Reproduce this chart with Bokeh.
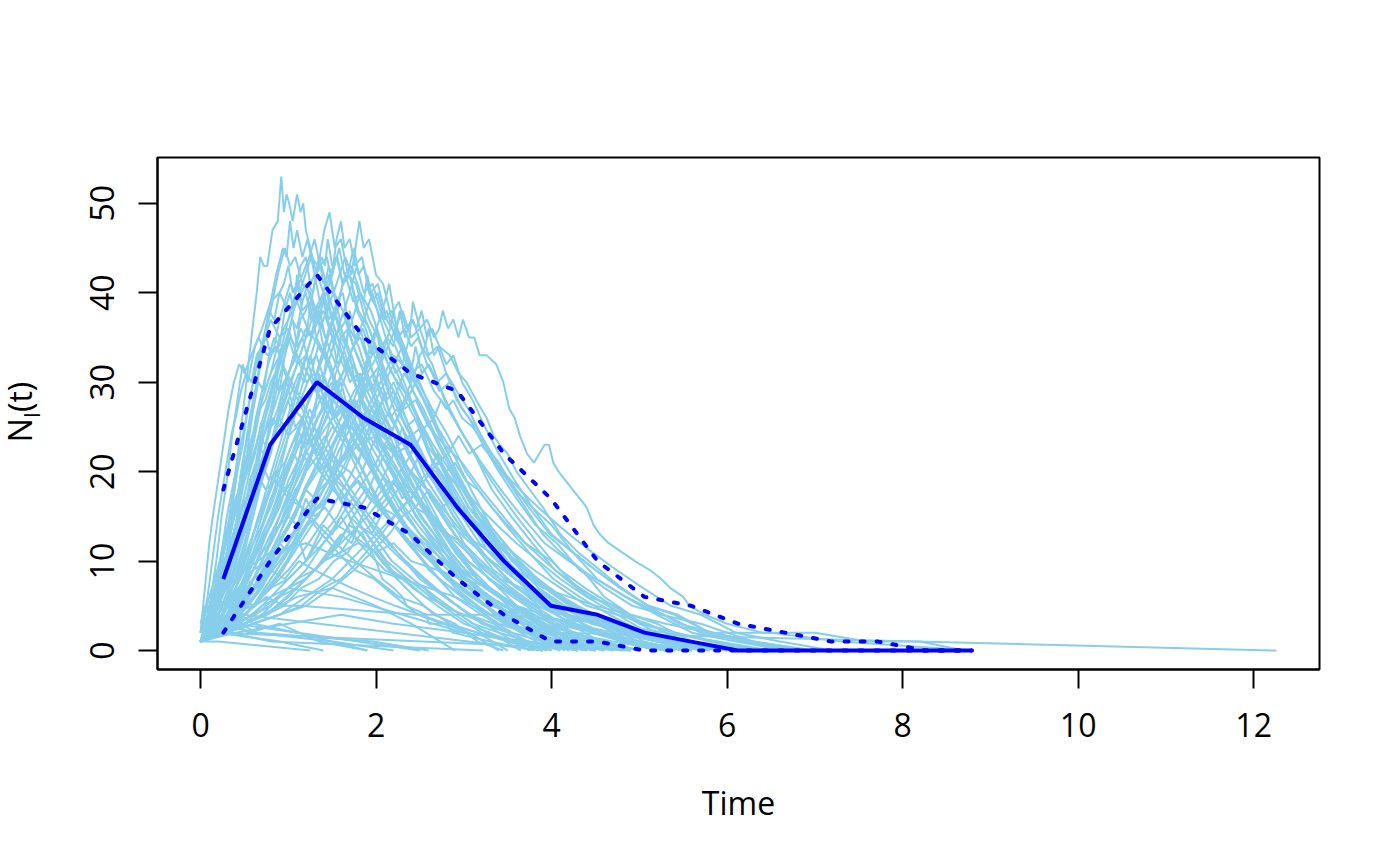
import math
from bokeh.plotting import figure
from bokeh.layouts import row
from bokeh.models import Range1d, FixedTicker, ColumnDataSource, Div
from bokeh.embed import file_html
from bokeh.resources import INLINE

# ---- simulated trajectories: (time, number infected) ----
run01 = [(0,1),(0.1,3),(0.2,7),(0.3,13),(0.4,20),(0.5,28),(0.58,35),(0.64,40),(0.68,44),(0.72,43),(0.76,43),(0.82,47),(0.88,48),(0.92,53),(0.95,49),(0.98,51),(1.01,50),(1.05,48),(1.1,51),(1.14,49),(1.17,50),(1.2,47),(1.25,45),(1.3,43),(1.4,40),(1.5,37),(1.62,33),(1.75,30),(1.9,26),(2.05,22),(2.25,19),(2.45,15),(2.7,12),(2.95,9),(3.25,7),(3.6,5),(4.0,3),(4.5,2),(5.0,1),(5.6,0)]
run02 = [(0,1),(0.1,3),(0.2,5),(0.3,9),(0.4,14),(0.5,20),(0.6,27),(0.7,33),(0.78,38),(0.86,42),(0.94,45),(0.98,44),(1.02,48),(1.06,45),(1.1,47),(1.16,44),(1.22,46),(1.3,42),(1.38,43),(1.48,39),(1.6,36),(1.72,33),(1.85,29),(2.0,26),(2.2,22),(2.4,18),(2.6,15),(2.85,11),(3.1,8),(3.4,6),(3.8,4),(4.2,2),(4.7,1),(5.3,0)]
run03 = [(0,1),(0.12,2),(0.24,4),(0.36,7),(0.48,11),(0.6,16),(0.72,22),(0.84,28),(0.96,33),(1.06,38),(1.16,41),(1.26,44),(1.34,43),(1.41,47),(1.47,49),(1.53,45),(1.6,46),(1.68,42),(1.77,41),(1.88,37),(2.0,34),(2.15,30),(2.3,27),(2.5,22),(2.7,18),(2.95,14),(3.2,11),(3.5,8),(3.85,5),(4.25,3),(4.7,2),(5.2,1),(5.8,0)]
run04 = [(0,1),(0.15,2),(0.3,4),(0.45,7),(0.6,11),(0.75,15),(0.9,20),(1.05,26),(1.2,31),(1.32,35),(1.44,38),(1.55,41),(1.65,44),(1.72,42),(1.78,46),(1.81,48),(1.86,45),(1.92,46),(2.0,42),(2.08,41),(2.18,37),(2.3,34),(2.45,30),(2.6,27),(2.78,23),(2.96,19),(3.16,15),(3.4,12),(3.65,9),(3.95,7),(4.3,5),(4.7,3),(5.15,2),(5.6,1),(6.2,0)]
run05 = [(0,1),(0.15,2),(0.3,3),(0.45,4),(0.6,6),(0.75,8),(0.9,10),(1.05,12),(1.2,15),(1.35,17),(1.5,20),(1.65,22),(1.8,25),(1.95,28),(2.1,31),(2.2,33),(2.3,32),(2.38,35),(2.42,39),(2.5,36),(2.58,37),(2.66,35),(2.72,36),(2.76,38),(2.82,36),(2.88,37),(2.94,35),(2.99,37),(3.06,35),(3.12,35),(3.18,33),(3.26,33),(3.37,32),(3.45,30),(3.52,27),(3.58,26),(3.64,24),(3.72,22),(3.8,21),(3.86,22),(3.92,23),(3.97,23),(4.02,21),(4.08,20),(4.16,19),(4.24,18),(4.32,17),(4.4,16),(4.48,14),(4.55,13),(4.65,12),(4.8,11),(4.95,10),(5.12,9),(5.25,8),(5.35,7),(5.5,6),(5.57,5),(5.75,4),(6.0,3),(6.4,2),(7.0,2),(7.6,1),(8.2,1),(8.7,0)]
run06 = [(0,1),(0.2,2),(0.4,4),(0.6,7),(0.8,10),(1.0,14),(1.15,17),(1.3,20),(1.45,23),(1.6,26),(1.75,29),(1.9,31),(2.02,33),(2.12,35),(2.2,34),(2.27,38),(2.33,35),(2.4,37),(2.46,36),(2.52,38),(2.58,35),(2.64,36),(2.72,34),(2.84,33),(2.94,31),(3.03,30),(3.14,28),(3.26,26),(3.34,24),(3.41,23),(3.5,22),(3.6,20),(3.75,18),(3.9,16),(4.1,13),(4.3,11),(4.55,9),(4.8,7),(5.1,5),(5.4,4),(5.8,2),(6.3,1),(6.9,0)]
run07 = [(0,1),(0.2,3),(0.4,5),(0.6,8),(0.8,11),(1.0,14),(1.2,18),(1.4,21),(1.6,25),(1.75,27),(1.9,30),(2.05,32),(2.18,35),(2.3,38),(2.4,35),(2.5,36),(2.6,33),(2.7,34),(2.8,31),(2.92,29),(3.05,27),(3.2,24),(3.35,21),(3.5,19),(3.7,16),(3.9,13),(4.1,11),(4.35,9),(4.6,6),(4.9,4),(5.2,3),(5.6,1),(6.1,0)]
run08 = [(0,1),(0.1,2),(0.2,4),(0.3,6),(0.4,10),(0.5,14),(0.6,19),(0.7,24),(0.8,29),(0.9,33),(1.0,37),(1.08,40),(1.16,42),(1.24,44),(1.3,46),(1.36,43),(1.44,44),(1.52,40),(1.62,38),(1.74,34),(1.88,31),(2.02,27),(2.2,23),(2.4,19),(2.6,15),(2.85,12),(3.1,9),(3.4,6),(3.75,4),(4.1,2),(4.5,1),(5.0,0)]
run09 = [(0,2),(0.12,3),(0.25,6),(0.38,9),(0.5,13),(0.62,17),(0.74,21),(0.86,25),(0.98,29),(1.1,32),(1.2,35),(1.3,38),(1.4,40),(1.48,42),(1.55,44),(1.62,41),(1.7,42),(1.8,38),(1.92,36),(2.05,32),(2.2,29),(2.38,25),(2.58,21),(2.8,17),(3.05,13),(3.3,10),(3.6,7),(3.95,5),(4.35,3),(4.8,1),(5.3,0)]
run10 = [(0,1),(0.1,3),(0.2,6),(0.3,10),(0.4,14),(0.5,19),(0.6,23),(0.7,28),(0.8,31),(0.9,35),(1.0,37),(1.1,39),(1.2,41),(1.3,38),(1.4,39),(1.5,35),(1.62,33),(1.75,30),(1.9,26),(2.05,22),(2.22,19),(2.4,16),(2.6,13),(2.8,10),(3.05,8),(3.3,6),(3.6,4),(3.9,2),(4.3,1),(4.7,0)]
run11 = [(0,1),(0.15,2),(0.3,4),(0.45,6),(0.6,9),(0.75,13),(0.9,17),(1.05,22),(1.2,27),(1.32,31),(1.44,35),(1.54,38),(1.65,42),(1.74,39),(1.82,40),(1.92,37),(2.02,35),(2.14,32),(2.28,29),(2.44,26),(2.6,22),(2.8,19),(3.0,15),(3.25,12),(3.5,9),(3.8,7),(4.1,5),(4.45,3),(4.85,2),(5.3,1),(5.8,0)]
run12 = [(0,1),(0.1,2),(0.2,3),(0.3,5),(0.4,8),(0.5,11),(0.6,15),(0.7,19),(0.8,22),(0.9,26),(1.0,29),(1.1,32),(1.2,35),(1.3,36),(1.4,38),(1.5,35),(1.6,36),(1.72,32),(1.85,30),(2.0,27),(2.15,23),(2.32,20),(2.5,17),(2.7,14),(2.9,11),(3.15,8),(3.4,6),(3.7,4),(4.0,2),(4.4,1),(4.8,0)]
run13 = [(0,1),(0.15,2),(0.3,3),(0.45,5),(0.6,8),(0.75,11),(0.9,14),(1.05,18),(1.2,22),(1.35,25),(1.5,29),(1.62,31),(1.74,34),(1.85,36),(1.95,33),(2.05,34),(2.18,31),(2.32,29),(2.48,26),(2.65,23),(2.85,20),(3.05,16),(3.3,13),(3.55,10),(3.85,7),(4.15,5),(4.5,3),(4.9,2),(5.35,1),(5.9,0)]
run14 = [(0,1),(0.08,2),(0.16,4),(0.24,6),(0.32,9),(0.4,12),(0.48,15),(0.56,18),(0.64,21),(0.72,24),(0.8,26),(0.9,29),(1.0,31),(1.1,33),(1.2,30),(1.3,31),(1.42,28),(1.55,26),(1.7,23),(1.86,20),(2.02,17),(2.2,14),(2.4,12),(2.6,9),(2.85,7),(3.1,5),(3.4,3),(3.7,2),(4.05,1),(4.4,0)]
run15 = [(0,1),(0.06,3),(0.12,6),(0.18,10),(0.24,15),(0.3,19),(0.36,24),(0.42,28),(0.48,32),(0.54,30),(0.62,34),(0.7,36),(0.8,39),(0.9,40),(1.0,38),(1.1,39),(1.22,36),(1.35,34),(1.5,31),(1.66,27),(1.84,24),(2.04,20),(2.26,16),(2.5,13),(2.76,10),(3.05,7),(3.35,4),(3.7,2),(4.1,0)]
run16 = [(0,1),(0.08,3),(0.16,5),(0.24,8),(0.32,12),(0.4,16),(0.48,21),(0.56,26),(0.64,30),(0.72,35),(0.8,38),(0.88,42),(0.96,45),(1.02,43),(1.08,44),(1.16,41),(1.25,40),(1.35,37),(1.46,34),(1.58,31),(1.72,28),(1.88,24),(2.05,21),(2.25,17),(2.48,14),(2.72,11),(3.0,8),(3.3,6),(3.65,4),(4.05,2),(4.5,0)]
run17 = [(0,1),(0.2,2),(0.4,4),(0.6,7),(0.8,11),(1.0,15),(1.2,20),(1.35,24),(1.5,28),(1.62,31),(1.74,34),(1.86,37),(1.96,40),(2.04,37),(2.12,38),(2.22,35),(2.34,33),(2.48,30),(2.64,27),(2.82,24),(3.02,20),(3.24,17),(3.48,14),(3.74,11),(4.02,8),(4.32,6),(4.66,4),(5.05,2),(5.5,1),(6.0,0)]
run18 = [(0,1),(0.15,2),(0.3,3),(0.45,5),(0.6,8),(0.75,11),(0.9,15),(1.05,19),(1.2,24),(1.35,29),(1.48,33),(1.6,37),(1.7,40),(1.78,43),(1.86,40),(1.96,41),(2.08,37),(2.22,34),(2.38,30),(2.56,26),(2.76,22),(2.98,18),(3.22,14),(3.5,10),(3.8,7),(4.15,5),(4.55,3),(5.0,1),(5.5,0)]
run19 = [(0,2),(0.08,4),(0.16,7),(0.24,10),(0.32,13),(0.4,16),(0.5,20),(0.6,24),(0.7,28),(0.8,31),(0.9,33),(1.0,35),(1.1,32),(1.2,33),(1.32,29),(1.46,27),(1.62,24),(1.8,21),(2.0,17),(2.22,14),(2.46,11),(2.72,8),(3.0,6),(3.3,4),(3.65,2),(4.0,0)]
run20 = [(0,1),(0.2,2),(0.4,3),(0.6,5),(0.8,7),(1.0,10),(1.2,13),(1.4,16),(1.6,20),(1.8,24),(1.95,27),(2.1,30),(2.2,32),(2.3,34),(2.4,31),(2.52,32),(2.66,29),(2.82,27),(3.0,24),(3.2,21),(3.42,18),(3.66,15),(3.92,12),(4.2,10),(4.5,8),(4.85,6),(5.25,4),(5.7,3),(6.3,1),(7.0,0)]
run21 = [(0,1),(0.12,2),(0.25,4),(0.38,6),(0.5,8),(0.62,11),(0.75,14),(0.88,17),(1.0,20),(1.12,23),(1.24,25),(1.36,28),(1.5,30),(1.62,27),(1.76,28),(1.92,25),(2.1,22),(2.3,19),(2.52,16),(2.76,12),(3.02,9),(3.3,7),(3.6,4),(3.95,2),(4.3,0)]
run22 = [(0,1),(0.06,3),(0.12,5),(0.18,8),(0.24,11),(0.3,15),(0.38,19),(0.46,23),(0.54,27),(0.62,31),(0.7,34),(0.8,37),(0.9,35),(1.0,36),(1.1,33),(1.22,31),(1.36,28),(1.52,25),(1.7,22),(1.9,18),(2.12,15),(2.36,12),(2.62,9),(2.9,6),(3.2,4),(3.55,2),(3.9,0)]
run23 = [(0,1),(0.12,2),(0.24,4),(0.36,6),(0.48,9),(0.6,13),(0.72,17),(0.84,21),(0.96,25),(1.08,29),(1.2,33),(1.3,36),(1.4,39),(1.5,42),(1.58,45),(1.64,42),(1.72,43),(1.82,40),(1.94,38),(2.08,34),(2.24,31),(2.42,27),(2.62,23),(2.84,19),(3.08,15),(3.34,11),(3.64,8),(3.98,5),(4.36,3),(4.8,1),(5.3,0)]
run24 = [(0,1),(0.25,2),(0.5,3),(0.75,5),(1.0,7),(1.2,9),(1.4,12),(1.6,15),(1.8,18),(2.0,21),(2.15,24),(2.3,27),(2.45,30),(2.6,32),(2.72,29),(2.84,30),(2.98,27),(3.14,25),(3.32,22),(3.52,19),(3.74,16),(3.98,13),(4.24,11),(4.52,8),(4.84,6),(5.2,4),(5.6,2),(6.1,1),(6.7,0)]
run25 = [(0,1),(0.2,2),(0.4,3),(0.6,5),(0.8,8),(1.0,11),(1.2,14),(1.4,17),(1.6,21),(1.8,24),(1.95,26),(2.08,28),(2.2,30),(2.32,27),(2.45,28),(2.6,25),(2.78,23),(2.98,21),(3.2,18),(3.45,15),(3.7,12),(4.0,10),(4.3,7),(4.65,5),(5.0,3),(5.4,1),(5.9,0)]
run26 = [(0,1),(0.15,2),(0.3,4),(0.45,6),(0.6,8),(0.75,11),(0.9,14),(1.05,17),(1.2,20),(1.35,22),(1.5,25),(1.6,24),(1.7,27),(1.8,25),(1.92,26),(2.05,23),(2.2,21),(2.38,18),(2.58,16),(2.8,13),(3.05,10),(3.3,8),(3.6,6),(3.9,4),(4.25,2),(4.6,1),(5.0,0)]
run27 = [(0,1),(0.1,2),(0.2,3),(0.3,5),(0.4,7),(0.5,9),(0.6,12),(0.7,14),(0.8,17),(0.9,19),(1.0,21),(1.1,23),(1.2,25),(1.3,22),(1.42,24),(1.55,21),(1.7,20),(1.86,18),(2.02,16),(2.2,14),(2.4,12),(2.62,10),(2.86,8),(3.12,6),(3.4,4),(3.7,3),(4.0,1),(4.4,0)]
run28 = [(0,1),(0.25,2),(0.5,3),(0.75,4),(1.0,6),(1.2,8),(1.4,10),(1.6,11),(1.8,14),(1.95,13),(2.1,16),(2.25,18),(2.4,20),(2.5,22),(2.6,20),(2.72,21),(2.86,19),(3.0,18),(3.18,16),(3.38,14),(3.6,12),(3.85,10),(4.1,8),(4.4,6),(4.75,4),(5.1,3),(5.5,1),(6.0,0)]
run29 = [(0,1),(0.15,2),(0.3,4),(0.45,6),(0.6,8),(0.75,9),(0.9,12),(1.0,11),(1.1,13),(1.2,10),(1.3,12),(1.4,14),(1.5,13),(1.6,15),(1.72,13),(1.86,12),(2.0,11),(2.16,9),(2.34,8),(2.54,7),(2.76,5),(3.0,4),(3.25,3),(3.55,2),(3.9,1),(4.3,0)]
run30 = [(0,1),(0.2,2),(0.4,3),(0.6,4),(0.8,5),(1.0,7),(1.2,8),(1.4,10),(1.55,12),(1.7,14),(1.85,13),(2.0,10),(2.07,8),(2.2,7),(2.3,6),(2.35,5),(2.57,4),(2.6,3),(2.8,3),(2.87,2),(3.3,1),(3.8,0)]
run31 = [(0,1),(0.08,3),(0.16,5),(0.24,8),(0.32,11),(0.4,13),(0.48,16),(0.56,18),(0.64,20),(0.74,18),(0.86,19),(1.0,17),(1.16,16),(1.34,14),(1.54,12),(1.76,10),(2.0,8),(2.26,6),(2.54,5),(2.84,3),(3.16,2),(3.5,0)]
run32 = [(0,1),(0.3,2),(0.6,3),(0.9,4),(1.2,6),(1.5,8),(1.8,11),(2.0,13),(2.2,15),(2.4,17),(2.55,19),(2.7,21),(2.82,22),(2.94,24),(3.06,22),(3.2,23),(3.36,21),(3.54,19),(3.74,17),(3.96,15),(4.2,13),(4.46,11),(4.74,9),(5.04,7),(5.36,5),(5.7,4),(6.1,2),(6.6,1),(7.2,0)]
run33 = [(0,1),(0.2,2),(0.4,4),(0.6,6),(0.8,9),(1.0,12),(1.2,15),(1.4,18),(1.6,21),(1.8,23),(2.0,24),(2.2,22),(2.4,23),(2.6,20),(2.8,18),(3.0,16),(3.25,13),(3.5,10),(3.7,7),(3.9,4),(4.1,2),(12.26,0)]
run34 = [(0,1),(0.15,2),(0.3,4),(0.5,7),(0.7,11),(0.9,15),(1.1,19),(1.3,23),(1.5,26),(1.65,28),(1.8,26),(1.95,27),(2.1,24),(2.3,21),(2.5,19),(2.75,16),(3.0,13),(3.3,11),(3.6,9),(3.9,7),(4.2,6),(4.5,5),(4.9,4),(5.3,3),(5.8,2),(6.5,2),(7.3,1),(8.79,0)]
run35 = [(0,1),(0.35,2),(0.8,1),(3.22,0)]
run36 = [(0,1),(0.12,2),(0.3,3),(0.55,2),(0.9,3),(1.35,1),(1.9,0)]
run37 = [(0,1),(0.15,2),(0.3,3),(0.5,4),(0.75,6),(0.95,5),(1.13,5),(2.46,4),(3.4,4),(4.7,3),(5.3,2),(5.9,1),(6.5,0)]
run38 = [(0,2),(0.1,3),(0.25,4),(0.45,3),(0.64,2),(1.96,1),(2.6,0)]
run39 = [(0,1),(0.06,3),(0.2,2),(4.9,0)]
run40 = [(0,1),(0.3,2),(0.7,4),(1.1,6),(1.5,7),(2.0,5),(2.4,3),(2.9,0)]
run41 = [(0,1),(0.2,1),(1.25,0)]
run42 = [(0,1),(0.1,2),(0.3,4),(0.6,5),(1.0,7),(1.6,6),(2.3,4),(3.0,2),(4.5,0)]
run43 = [(0,1),(0.08,3),(0.16,5),(0.3,7),(0.5,9),(0.8,11),(1.2,12),(1.7,10),(2.3,8),(2.9,6),(3.5,3),(4.2,0)]
run44 = [(0,1),(0.1,2),(0.2,4),(0.4,3),(2.5,0)]
run45 = [(0,2),(0.05,4),(0.15,6),(0.3,5),(0.5,4),(3.9,0)]
run46 = [(0,1),(0.4,2),(1.0,3),(1.6,4),(2.2,3),(3.0,2),(4.3,0)]
run47 = [(0,1),(0.07,2),(0.14,4),(0.21,5),(0.28,8),(0.35,10),(0.42,13),(0.49,15),(0.56,19),(0.63,21),(0.7,25),(0.77,27),(0.84,30),(0.9,29),(0.96,33),(1.02,35),(1.08,34),(1.14,37),(1.2,38),(1.25,40),(1.3,37),(1.36,38),(1.42,35),(1.5,36),(1.58,33),(1.66,31),(1.75,32),(1.85,28),(1.96,26),(2.08,23),(2.2,21),(2.34,18),(2.5,15),(2.66,13),(2.84,10),(3.04,8),(3.26,6),(3.5,4),(3.8,2),(4.1,1),(4.5,0)]
run48 = [(0,1),(0.15,2),(0.3,3),(0.45,5),(0.6,7),(0.72,9),(0.84,11),(0.96,13),(1.08,15),(1.2,18),(1.3,17),(1.4,20),(1.5,22),(1.58,21),(1.66,25),(1.74,27),(1.8,26),(1.86,30),(1.92,33),(1.98,30),(2.04,31),(2.12,28),(2.2,29),(2.3,26),(2.4,24),(2.52,25),(2.64,21),(2.78,19),(2.94,16),(3.1,14),(3.28,11),(3.48,9),(3.7,7),(3.94,5),(4.2,3),(4.5,2),(4.85,1),(5.2,0)]
run49 = [(0,1),(0.06,2),(0.12,4),(0.18,6),(0.24,9),(0.3,11),(0.36,14),(0.42,16),(0.5,19),(0.58,21),(0.66,24),(0.74,23),(0.82,26),(0.9,25),(1.0,28),(1.08,25),(1.16,26),(1.26,23),(1.36,21),(1.48,19),(1.6,17),(1.74,14),(1.9,12),(2.06,10),(2.24,8),(2.44,6),(2.66,4),(2.9,3),(3.16,1),(3.45,0)]
run50 = [(0,1),(0.08,2),(0.16,3),(0.24,5),(0.32,7),(0.4,10),(0.48,13),(0.56,17),(0.64,20),(0.72,24),(0.8,27),(0.88,31),(0.96,34),(1.04,37),(1.1,36),(1.16,39),(1.22,41),(1.28,40),(1.35,44),(1.4,41),(1.46,42),(1.54,39),(1.62,40),(1.7,36),(1.8,34),(1.9,31),(2.02,28),(2.16,25),(2.32,21),(2.5,18),(2.7,14),(2.92,11),(3.16,8),(3.44,6),(3.76,4),(4.1,2),(4.5,1),(4.9,0)]
run51 = [(0,1),(0.18,2),(0.36,3),(0.54,5),(0.7,7),(0.86,10),(1.0,12),(1.14,15),(1.28,17),(1.4,20),(1.52,23),(1.62,25),(1.72,28),(1.8,27),(1.88,31),(1.95,33),(2.0,36),(2.06,33),(2.14,34),(2.22,31),(2.32,32),(2.42,29),(2.54,27),(2.68,24),(2.84,21),(3.0,18),(3.2,15),(3.42,12),(3.66,9),(3.92,7),(4.2,5),(4.52,3),(4.9,2),(5.3,1),(5.7,0)]
run52 = [(0,1),(0.1,2),(0.2,3),(0.32,5),(0.44,7),(0.56,9),(0.68,12),(0.8,14),(0.92,17),(1.04,19),(1.14,22),(1.24,21),(1.34,24),(1.44,26),(1.52,28),(1.6,30),(1.68,27),(1.76,28),(1.86,25),(1.98,23),(2.12,21),(2.28,18),(2.46,15),(2.66,12),(2.88,10),(3.12,7),(3.4,5),(3.7,3),(4.0,2),(4.35,0)]
run53 = [(0,1),(0.06,2),(0.12,4),(0.18,6),(0.24,8),(0.3,11),(0.36,14),(0.42,17),(0.48,21),(0.54,24),(0.6,27),(0.66,30),(0.72,29),(0.78,33),(0.84,35),(0.9,34),(0.96,38),(1.02,40),(1.06,38),(1.1,42),(1.15,39),(1.2,40),(1.26,37),(1.32,38),(1.4,34),(1.48,32),(1.58,29),(1.68,27),(1.8,24),(1.94,21),(2.1,18),(2.28,15),(2.48,12),(2.7,9),(2.96,7),(3.24,5),(3.56,3),(3.9,1),(4.3,0)]
run54 = [(0,1),(0.25,2),(0.5,3),(0.7,4),(0.9,6),(1.1,7),(1.3,9),(1.45,11),(1.6,13),(1.72,12),(1.84,15),(1.96,17),(2.06,19),(2.16,21),(2.24,23),(2.3,25),(2.38,22),(2.46,23),(2.56,21),(2.68,20),(2.82,18),(2.98,16),(3.16,14),(3.36,12),(3.58,10),(3.82,8),(4.08,6),(4.38,4),(4.7,3),(5.05,1),(5.5,0)]
run55 = [(0,1),(0.1,2),(0.2,4),(0.3,6),(0.4,9),(0.5,12),(0.6,16),(0.7,19),(0.8,23),(0.9,27),(0.98,30),(1.06,33),(1.14,36),(1.2,35),(1.26,39),(1.32,42),(1.38,44),(1.42,43),(1.45,46),(1.5,43),(1.56,44),(1.62,41),(1.7,42),(1.78,38),(1.88,36),(1.98,33),(2.1,30),(2.24,26),(2.4,23),(2.58,19),(2.78,16),(3.0,12),(3.24,9),(3.5,7),(3.8,5),(4.12,3),(4.5,2),(4.9,1),(5.4,0)]
run56 = [(0,1),(0.12,2),(0.24,3),(0.36,4),(0.5,6),(0.64,7),(0.78,9),(0.92,11),(1.06,12),(1.2,14),(1.32,16),(1.44,17),(1.52,19),(1.6,20),(1.7,18),(1.8,19),(1.92,17),(2.06,16),(2.22,14),(2.4,12),(2.6,11),(2.82,9),(3.06,7),(3.32,5),(3.6,4),(3.9,2),(4.25,1),(4.6,0)]
run57 = [(0,1),(0.14,2),(0.28,3),(0.42,5),(0.56,7),(0.7,10),(0.82,13),(0.94,16),(1.06,19),(1.18,22),(1.28,25),(1.38,27),(1.46,30),(1.54,32),(1.6,35),(1.66,34),(1.7,38),(1.76,35),(1.82,36),(1.9,33),(1.98,34),(2.08,31),(2.2,28),(2.34,25),(2.5,22),(2.68,19),(2.88,15),(3.1,12),(3.34,9),(3.6,7),(3.9,5),(4.22,3),(4.6,2),(5.0,1),(5.4,0)]
run58 = [(0,2),(0.05,4),(0.1,6),(0.16,8),(0.22,10),(0.28,13),(0.34,15),(0.4,17),(0.48,19),(0.56,21),(0.64,23),(0.72,22),(0.8,25),(0.9,26),(1.0,24),(1.1,25),(1.22,22),(1.36,20),(1.52,18),(1.7,15),(1.9,13),(2.12,10),(2.36,8),(2.62,6),(2.9,4),(3.2,2),(3.55,1),(3.9,0)]
run59 = [(0,1),(0.2,2),(0.4,3),(0.6,4),(0.8,6),(1.0,8),(1.2,10),(1.4,13),(1.56,15),(1.7,18),(1.84,20),(1.96,23),(2.06,25),(2.16,27),(2.24,29),(2.32,31),(2.38,30),(2.45,34),(2.52,31),(2.6,32),(2.7,30),(2.8,31),(2.92,28),(3.06,26),(3.22,23),(3.4,20),(3.6,17),(3.82,14),(4.06,12),(4.32,9),(4.6,7),(4.92,5),(5.28,4),(5.7,2),(6.2,1),(6.8,0)]
run60 = [(0,1),(0.06,3),(0.12,5),(0.18,7),(0.24,10),(0.3,13),(0.36,16),(0.42,20),(0.48,23),(0.54,27),(0.6,30),(0.66,33),(0.72,35),(0.78,38),(0.84,37),(0.9,40),(0.95,41),(1.0,43),(1.05,40),(1.1,41),(1.16,38),(1.24,39),(1.32,35),(1.42,33),(1.52,30),(1.64,27),(1.78,24),(1.94,21),(2.12,17),(2.32,14),(2.54,11),(2.8,8),(3.08,6),(3.4,4),(3.75,2),(4.15,1),(4.6,0)]
run61 = [(0,1),(0.3,2),(0.6,3),(0.9,4),(1.15,5),(1.4,7),(1.6,8),(1.8,10),(1.98,12),(2.14,14),(2.28,16),(2.4,17),(2.5,19),(2.6,20),(2.7,22),(2.8,20),(2.9,21),(3.02,19),(3.16,18),(3.32,16),(3.5,14),(3.7,12),(3.92,10),(4.16,8),(4.42,6),(4.72,5),(5.04,3),(5.4,2),(5.8,1),(6.3,0)]
run62 = [(0,1),(0.1,2),(0.2,3),(0.3,5),(0.4,7),(0.5,10),(0.6,12),(0.7,15),(0.8,18),(0.9,21),(1.0,24),(1.1,27),(1.18,29),(1.26,31),(1.34,34),(1.4,33),(1.46,36),(1.5,37),(1.55,39),(1.6,36),(1.66,37),(1.74,34),(1.82,35),(1.92,32),(2.02,30),(2.14,27),(2.28,24),(2.44,21),(2.62,17),(2.82,14),(3.04,11),(3.28,8),(3.56,6),(3.86,4),(4.2,2),(4.6,1),(5.0,0)]
run63 = [(0,1),(0.1,2),(0.2,3),(0.3,5),(0.4,6),(0.5,8),(0.6,9),(0.7,11),(0.8,12),(0.9,14),(1.0,15),(1.1,14),(1.2,17),(1.3,15),(1.42,16),(1.56,14),(1.72,13),(1.9,11),(2.1,9),(2.32,8),(2.56,6),(2.82,5),(3.1,3),(3.4,2),(3.75,1),(4.1,0)]
run64 = [(0,1),(0.08,2),(0.16,4),(0.24,6),(0.32,8),(0.4,11),(0.48,13),(0.56,16),(0.64,18),(0.72,21),(0.8,23),(0.88,26),(0.96,27),(1.04,29),(1.12,31),(1.18,30),(1.25,33),(1.32,30),(1.4,31),(1.5,28),(1.6,27),(1.72,24),(1.86,22),(2.02,19),(2.2,16),(2.4,13),(2.62,10),(2.86,8),(3.12,6),(3.4,4),(3.7,3),(4.05,1),(4.4,0)]
run65 = [(0,1),(0.12,2),(0.24,3),(0.36,5),(0.48,7),(0.6,10),(0.72,13),(0.84,16),(0.96,20),(1.08,23),(1.2,27),(1.3,30),(1.4,33),(1.48,36),(1.56,38),(1.62,41),(1.68,42),(1.72,44),(1.75,45),(1.8,42),(1.86,43),(1.94,40),(2.02,41),(2.12,37),(2.24,35),(2.38,31),(2.54,28),(2.72,24),(2.92,20),(3.14,16),(3.38,13),(3.64,10),(3.94,7),(4.26,5),(4.62,3),(5.0,2),(5.4,1),(5.9,0)]
run66 = [(0,1),(0.2,2),(0.4,3),(0.6,5),(0.8,7),(1.0,9),(1.16,11),(1.3,13),(1.44,15),(1.56,17),(1.68,19),(1.78,21),(1.88,23),(1.96,25),(2.04,27),(2.1,29),(2.16,26),(2.24,27),(2.34,25),(2.46,26),(2.58,23),(2.72,21),(2.88,19),(3.06,16),(3.26,14),(3.48,11),(3.72,9),(3.98,7),(4.26,5),(4.58,3),(4.94,2),(5.3,1),(5.7,0)]
run67 = [(0,1),(0.2,2),(0.4,3),(0.6,4),(0.8,5),(1.0,7),(1.2,8),(1.4,10),(1.6,11),(1.8,12),(2.0,11),(2.2,12),(2.4,10),(2.7,9),(3.0,8),(3.3,7),(3.6,5),(3.9,4),(4.2,3),(4.6,2),(5.0,1),(5.5,0)]
run68 = [(0,2),(0.04,4),(0.08,6),(0.12,9),(0.16,12),(0.2,15),(0.25,18),(0.3,21),(0.35,24),(0.4,26),(0.46,29),(0.52,31),(0.58,30),(0.64,33),(0.7,34),(0.75,35),(0.8,33),(0.88,34),(0.96,31),(1.06,29),(1.16,27),(1.28,24),(1.42,21),(1.58,18),(1.76,15),(1.96,12),(2.18,9),(2.42,7),(2.7,5),(3.0,3),(3.3,2),(3.65,0)]
run69 = [(0,1),(0.1,2),(0.2,3),(0.3,4),(0.4,6),(0.5,8),(0.6,10),(0.7,13),(0.8,15),(0.9,18),(0.98,20),(1.06,22),(1.12,21),(1.18,25),(1.24,27),(1.3,26),(1.35,31),(1.4,28),(1.46,29),(1.54,26),(1.62,27),(1.72,24),(1.84,22),(1.98,20),(2.14,17),(2.32,14),(2.52,12),(2.74,9),(2.98,7),(3.24,5),(3.52,3),(3.84,2),(4.2,0)]
run70 = [(0,1),(0.2,2),(0.4,3),(0.6,5),(0.8,8),(1.0,11),(1.15,14),(1.3,17),(1.44,20),(1.56,23),(1.68,26),(1.78,29),(1.88,32),(1.96,35),(2.04,37),(2.1,39),(2.15,41),(2.2,38),(2.26,39),(2.34,36),(2.42,37),(2.52,34),(2.64,32),(2.78,28),(2.94,25),(3.12,22),(3.32,18),(3.54,15),(3.78,12),(4.04,9),(4.32,7),(4.64,5),(5.0,3),(5.4,2),(5.85,1),(6.4,0)]
run71 = [(0,3),(0.05,5),(0.12,4),(0.3,3),(0.6,2),(1.5,1),(2.2,0)]
run72 = [(0,1),(0.05,2),(0.1,4),(0.16,6),(0.3,5),(0.6,3),(1.1,2),(1.9,0)]
run73 = [(0,2),(0.08,3),(0.2,2),(0.9,1),(1.4,0)]
run74 = [(0,2),(0.03,5),(0.06,8),(0.1,12),(0.14,15),(0.2,19),(0.26,23),(0.32,27),(0.38,30),(0.44,32),(0.5,31),(0.58,33),(0.66,35),(0.76,33),(0.86,34),(0.98,31),(1.1,29),(1.24,26),(1.4,23),(1.58,20),(1.78,17),(2.0,14),(2.24,11),(2.5,8),(2.78,6),(3.08,4),(3.4,2),(3.75,0)]
run75 = [(0,1),(0.07,2),(0.14,4),(0.21,6),(0.28,9),(0.35,11),(0.42,14),(0.49,17),(0.56,20),(0.62,22),(0.68,25),(0.74,27),(0.8,29),(0.86,31),(0.92,33),(0.98,35),(1.05,37),(1.1,34),(1.16,35),(1.24,32),(1.32,33),(1.42,30),(1.52,28),(1.64,26),(1.76,23),(1.9,21),(2.06,18),(2.24,15),(2.44,12),(2.66,10),(2.9,7),(3.16,5),(3.46,3),(3.8,2),(4.15,0)]
run76 = [(0,1),(0.18,2),(0.36,3),(0.52,4),(0.68,6),(0.84,8),(0.98,10),(1.1,12),(1.22,14),(1.34,15),(1.44,17),(1.54,19),(1.64,20),(1.72,22),(1.8,21),(1.88,24),(1.94,25),(2.0,27),(2.08,24),(2.16,25),(2.26,23),(2.38,24),(2.5,21),(2.64,19),(2.8,17),(2.98,15),(3.18,12),(3.4,10),(3.64,8),(3.9,6),(4.2,4),(4.52,3),(4.88,1),(5.3,0)]
run77 = [(0,1),(0.16,2),(0.32,3),(0.48,5),(0.62,7),(0.76,10),(0.9,13),(1.02,16),(1.14,19),(1.26,22),(1.36,25),(1.46,28),(1.54,31),(1.62,33),(1.7,36),(1.76,38),(1.82,40),(1.86,39),(1.9,42),(1.96,39),(2.02,40),(2.1,37),(2.18,38),(2.28,35),(2.4,32),(2.54,29),(2.7,25),(2.88,22),(3.08,18),(3.3,14),(3.54,11),(3.8,8),(4.1,6),(4.42,4),(4.78,2),(5.2,1),(5.6,0)]
run78 = [(0,1),(0.1,2),(0.2,3),(0.3,4),(0.4,6),(0.5,7),(0.6,9),(0.7,11),(0.8,13),(0.9,14),(1.0,16),(1.08,18),(1.16,19),(1.24,21),(1.3,23),(1.36,20),(1.44,21),(1.54,19),(1.66,18),(1.8,16),(1.96,14),(2.14,12),(2.34,10),(2.56,8),(2.8,6),(3.06,4),(3.34,3),(3.66,1),(4.0,0)]
run79 = [(0,1),(0.1,2),(0.2,3),(0.3,5),(0.4,7),(0.5,9),(0.6,11),(0.7,14),(0.8,16),(0.9,19),(1.0,22),(1.08,24),(1.16,26),(1.24,28),(1.32,30),(1.38,29),(1.44,33),(1.5,35),(1.56,32),(1.62,33),(1.7,30),(1.8,31),(1.9,28),(2.02,26),(2.16,23),(2.32,20),(2.5,17),(2.7,14),(2.92,11),(3.16,8),(3.42,6),(3.72,4),(4.04,2),(4.4,1),(4.8,0)]
run80 = [(0,1),(0.05,2),(0.1,4),(0.15,6),(0.2,8),(0.26,11),(0.32,13),(0.38,16),(0.44,18),(0.5,21),(0.56,23),(0.62,25),(0.68,27),(0.74,28),(0.8,30),(0.85,31),(0.9,29),(0.98,30),(1.06,27),(1.16,26),(1.28,23),(1.42,21),(1.58,18),(1.76,16),(1.96,13),(2.18,10),(2.42,8),(2.68,6),(2.96,4),(3.26,2),(3.6,1),(3.95,0)]
run81 = [(0,1),(0.2,2),(0.4,3),(0.6,5),(0.78,7),(0.94,9),(1.08,12),(1.22,14),(1.34,17),(1.46,19),(1.56,22),(1.66,24),(1.76,26),(1.84,28),(1.92,30),(1.98,29),(2.04,32),(2.1,34),(2.16,36),(2.2,38),(2.26,35),(2.32,36),(2.4,34),(2.48,35),(2.58,32),(2.7,30),(2.84,27),(3.0,24),(3.18,21),(3.38,18),(3.6,15),(3.84,12),(4.1,9),(4.38,7),(4.7,5),(5.04,3),(5.42,2),(5.84,1),(6.3,0)]
run82 = [(0,1),(0.08,2),(0.16,3),(0.24,5),(0.32,6),(0.4,8),(0.48,10),(0.56,12),(0.64,14),(0.72,16),(0.8,18),(0.88,20),(0.96,21),(1.04,23),(1.1,24),(1.15,26),(1.22,23),(1.3,24),(1.4,22),(1.52,20),(1.66,18),(1.82,16),(2.0,13),(2.2,11),(2.42,9),(2.66,7),(2.92,5),(3.2,3),(3.5,2),(3.85,0)]
run83 = [(0,1),(0.08,2),(0.16,4),(0.24,6),(0.32,8),(0.4,11),(0.48,14),(0.56,17),(0.64,20),(0.72,22),(0.8,25),(0.88,27),(0.96,30),(1.04,32),(1.12,34),(1.2,36),(1.26,35),(1.32,38),(1.36,37),(1.4,40),(1.46,37),(1.52,38),(1.6,35),(1.68,36),(1.78,33),(1.9,30),(2.04,27),(2.2,24),(2.38,20),(2.58,17),(2.8,13),(3.04,10),(3.3,8),(3.6,5),(3.92,3),(4.28,2),(4.7,0)]
run84 = [(0,1),(0.25,2),(0.5,3),(0.75,4),(0.95,5),(1.15,7),(1.35,8),(1.52,10),(1.68,11),(1.82,13),(1.94,14),(2.04,16),(2.12,17),(2.2,19),(2.3,17),(2.4,18),(2.52,16),(2.66,15),(2.82,13),(3.0,12),(3.2,10),(3.42,8),(3.66,7),(3.92,5),(4.2,4),(4.5,2),(4.85,1),(5.2,0)]
run85 = [(0,1),(0.14,2),(0.28,3),(0.42,4),(0.56,6),(0.7,8),(0.82,10),(0.94,13),(1.06,15),(1.18,18),(1.28,20),(1.38,22),(1.46,25),(1.54,27),(1.6,29),(1.66,31),(1.7,33),(1.76,30),(1.82,31),(1.9,29),(2.0,30),(2.1,27),(2.22,25),(2.36,22),(2.52,19),(2.7,16),(2.9,13),(3.12,10),(3.36,8),(3.62,6),(3.9,4),(4.2,3),(4.55,1),(4.9,0)]
run86 = [(0,1),(0.07,2),(0.14,4),(0.21,6),(0.28,9),(0.35,12),(0.42,15),(0.49,19),(0.56,22),(0.63,26),(0.7,29),(0.77,32),(0.84,34),(0.9,37),(0.96,39),(1.02,41),(1.08,40),(1.14,43),(1.2,44),(1.25,41),(1.3,42),(1.36,39),(1.44,40),(1.52,36),(1.62,34),(1.72,31),(1.84,28),(1.98,25),(2.14,21),(2.32,18),(2.52,15),(2.74,12),(2.98,9),(3.24,7),(3.54,5),(3.86,3),(4.22,2),(4.6,0)]
run87 = [(0,1),(0.05,2),(0.1,4),(0.16,6),(0.22,8),(0.28,10),(0.34,12),(0.4,14),(0.46,16),(0.52,17),(0.58,19),(0.64,20),(0.7,21),(0.78,19),(0.86,20),(0.96,18),(1.08,17),(1.22,15),(1.38,13),(1.56,11),(1.76,9),(1.98,8),(2.22,6),(2.48,4),(2.76,3),(3.06,2),(3.4,0)]
run88 = [(0,1),(0.25,2),(0.5,3),(0.75,4),(0.98,6),(1.2,8),(1.4,10),(1.58,12),(1.74,15),(1.88,17),(2.0,20),(2.1,22),(2.2,25),(2.28,27),(2.36,29),(2.44,31),(2.5,33),(2.56,34),(2.6,36),(2.66,33),(2.72,34),(2.8,32),(2.88,33),(2.98,30),(3.1,28),(3.24,25),(3.4,22),(3.58,19),(3.78,16),(4.0,13),(4.24,11),(4.5,9),(4.78,7),(5.1,5),(5.45,3),(5.85,2),(6.3,1),(6.8,0)]
run89 = [(0,1),(0.1,2),(0.2,3),(0.3,4),(0.4,6),(0.5,8),(0.6,10),(0.7,12),(0.8,14),(0.9,16),(1.0,19),(1.1,21),(1.18,23),(1.26,24),(1.34,26),(1.4,27),(1.45,29),(1.52,26),(1.6,27),(1.7,25),(1.82,24),(1.96,21),(2.12,19),(2.3,16),(2.5,13),(2.72,11),(2.96,8),(3.22,6),(3.5,4),(3.82,3),(4.16,1),(4.5,0)]
run90 = [(0,1),(0.1,2),(0.2,4),(0.3,6),(0.42,8),(0.54,11),(0.66,15),(0.78,18),(0.9,22),(1.0,25),(1.1,29),(1.18,32),(1.26,35),(1.34,38),(1.4,40),(1.46,43),(1.5,42),(1.55,46),(1.6,48),(1.64,45),(1.7,46),(1.76,43),(1.84,44),(1.92,40),(2.02,38),(2.14,34),(2.28,31),(2.44,27),(2.62,23),(2.82,19),(3.04,15),(3.28,12),(3.54,9),(3.84,6),(4.16,4),(4.52,3),(4.92,1),(5.4,0)]
run91 = [(0,1),(0.3,2),(0.6,3),(0.9,4),(1.2,5),(1.5,7),(1.75,9),(1.95,11),(2.15,13),(2.3,15),(2.45,16),(2.6,18),(2.74,16),(2.9,17),(3.08,15),(3.3,13),(3.55,11),(3.8,9),(4.1,7),(4.4,5),(4.75,4),(5.1,2),(5.5,1),(5.9,0)]
run92 = [(0,2),(0.1,3),(0.22,5),(0.36,6),(0.5,8),(0.66,7),(0.8,9),(0.96,8),(1.12,10),(1.3,9),(1.5,8),(1.72,7),(1.96,6),(2.22,5),(2.5,4),(2.8,3),(3.15,2),(3.5,1),(3.9,0)]
run93 = [(0,1),(0.15,3),(0.3,4),(0.45,6),(0.6,5),(0.8,7),(1.0,8),(1.2,10),(1.4,12),(1.58,14),(1.74,16),(1.88,18),(2.0,17),(2.14,19),(2.28,18),(2.44,16),(2.62,15),(2.82,13),(3.04,11),(3.28,9),(3.54,7),(3.82,5),(4.12,4),(4.45,2),(4.8,1),(5.2,0)]
run94 = [(0,1),(0.08,2),(0.18,4),(0.3,5),(0.45,7),(0.6,9),(0.75,10),(0.9,12),(1.04,13),(1.2,15),(1.36,16),(1.5,18),(1.62,17),(1.76,19),(1.9,18),(2.06,16),(2.24,15),(2.44,13),(2.66,11),(2.9,9),(3.16,7),(3.44,5),(3.74,4),(4.06,2),(4.4,1),(4.8,0)]
run95 = [(0,1),(0.2,2),(0.45,3),(0.7,5),(0.9,6),(1.1,8),(1.3,9),(1.5,11),(1.7,13),(1.9,15),(2.06,17),(2.2,19),(2.34,21),(2.46,23),(2.56,25),(2.66,26),(2.74,28),(2.8,27),(2.88,28),(2.98,26),(3.1,25),(3.24,23),(3.4,21),(3.58,18),(3.78,16),(4.0,14),(4.24,11),(4.5,9),(4.78,7),(5.1,5),(5.44,4),(5.8,2),(6.2,1),(6.6,0)]
run96 = [(0,1),(0.1,2),(0.25,3),(0.4,5),(0.55,6),(0.7,8),(0.82,10),(0.94,11),(1.06,13),(1.16,15),(1.26,16),(1.36,18),(1.46,19),(1.56,21),(1.64,22),(1.72,24),(1.8,25),(1.88,24),(1.96,26),(2.06,24),(2.18,23),(2.32,21),(2.48,19),(2.66,17),(2.86,14),(3.08,12),(3.32,10),(3.58,8),(3.86,6),(4.16,4),(4.48,3),(4.84,2),(5.2,1),(5.6,0)]

runs = [run01, run02, run03, run04, run05, run06, run07, run08, run09, run10,
        run11, run12, run13, run14, run15, run16, run17, run18, run19, run20,
        run21, run22, run23, run24, run25, run26, run27, run28, run29, run30,
        run31, run32, run33, run34, run35, run36, run37, run38, run39, run40,
        run41, run42, run43, run44, run45, run46, run47, run48, run49, run50,
        run51, run52, run53, run54, run55, run56, run57, run58, run59, run60,
        run61, run62, run63, run64, run65, run66, run67, run68, run69, run70,
        run71, run72, run73, run74, run75, run76, run77, run78, run79, run80,
        run81, run82, run83, run84, run85, run86, run87, run88, run89, run90,
        run91, run92, run93, run94, run95, run96]

# ---- summary curves (median and quantile bands) ----
summary_time = [0.26, 0.793, 1.326, 1.859, 2.392, 2.925, 3.458, 3.991, 4.524,
                5.057, 5.59, 6.123, 6.656, 7.189, 7.722, 8.255, 8.788]
median_n = [8, 23, 30, 26, 23, 16, 10, 5, 4, 2, 1, 0, 0, 0, 0, 0, 0]
upper_n = [18, 36, 42, 35, 31, 29, 22, 17, 10, 6, 5, 3, 2, 1, 1, 0, 0]
lower_n = [2, 10, 17, 16, 13, 8, 4, 1, 1, 0, 0, 0, 0, 0, 0, 0, 0]

x_ticks = [0, 2, 4, 6, 8, 10, 12]
y_ticks = [0, 10, 20, 30, 40, 50]
x_title = "Time"
y_title_main, y_title_sub, y_title_tail = "N", "I", "(t)"

FONT = "Open Sans"

xs = [[pt[0] for pt in r] for r in runs]
ys = [[pt[1] for pt in r] for r in runs]

all_t = [v for r in xs for v in r] + summary_time
all_n = [v for r in ys for v in r] + upper_n
tmin, tmax = min(all_t), max(all_t)
nmin, nmax = min(all_n), max(all_n)
tpad = 0.04 * (tmax - tmin)
npad = 0.04 * (nmax - nmin)

TOTAL_W, TOTAL_H = 1384, 850
LAB_W = 54

# ---- narrow HTML panel holding the rotated y-axis title N_I(t) ----
label_html = (
    f'<div style="position:relative;width:{LAB_W}px;height:{TOTAL_H}px;overflow:visible;">'
    '<div style="position:absolute;left:21px;top:412px;'
    'transform:translate(-50%,-50%) rotate(-90deg);white-space:nowrap;'
    f"font-family:'{FONT}';font-size:32px;line-height:32px;color:#000;\">"
    f'{y_title_main}<span style="font-size:22px;position:relative;top:8px;">{y_title_sub}</span>{y_title_tail}'
    '</div></div>'
)
lab = Div(text=label_html, width=LAB_W, height=TOTAL_H, margin=(0, 0, 0, 0))

# ---- main plot ----
p = figure(width=TOTAL_W - LAB_W, height=TOTAL_H, output_backend="svg", toolbar_location=None,
           x_range=Range1d(tmin - tpad, tmax + tpad),
           y_range=Range1d(nmin - npad, nmax + npad),
           min_border_left=157 - LAB_W, min_border_right=TOTAL_W - 1319,
           min_border_top=157, min_border_bottom=TOTAL_H - 669)
p.background_fill_color = "white"
p.border_fill_color = "white"
p.grid.visible = False
p.outline_line_color = "black"
p.outline_line_width = 2

for ax in (p.xaxis[0], p.yaxis[0]):
    ax.axis_line_width = 2
    ax.axis_line_color = "black"
    ax.major_tick_line_width = 2
    ax.major_tick_line_color = "black"
    ax.major_tick_out = 19
    ax.major_tick_in = 0
    ax.minor_tick_out = 0
    ax.minor_tick_in = 0
    ax.major_label_text_font = FONT
    ax.major_label_text_font_size = "32px"
    ax.major_label_text_color = "black"
    ax.major_label_standoff = 24

p.xaxis.ticker = FixedTicker(ticks=x_ticks)
p.yaxis.ticker = FixedTicker(ticks=y_ticks)
p.yaxis.major_label_orientation = "vertical"
p.xaxis.axis_label = x_title
p.xaxis.axis_label_text_font = FONT
p.xaxis.axis_label_text_font_size = "32px"
p.xaxis.axis_label_text_font_style = "normal"
p.xaxis.axis_label_text_color = "black"
p.xaxis.axis_label_standoff = 41

src = ColumnDataSource(data=dict(xs=xs, ys=ys))
p.multi_line(xs="xs", ys="ys", source=src, line_color="#87CEEB", line_width=2)

p.line(summary_time, median_n, line_color="#0000FF", line_width=4)
p.line(summary_time, upper_n, line_color="#0000FF", line_width=4,
       line_dash="4 12", line_cap="round")
p.line(summary_time, lower_n, line_color="#0000FF", line_width=4,
       line_dash="4 12", line_cap="round")

layout = row(lab, p)
open("out.html", "w").write(file_html(layout, INLINE))
